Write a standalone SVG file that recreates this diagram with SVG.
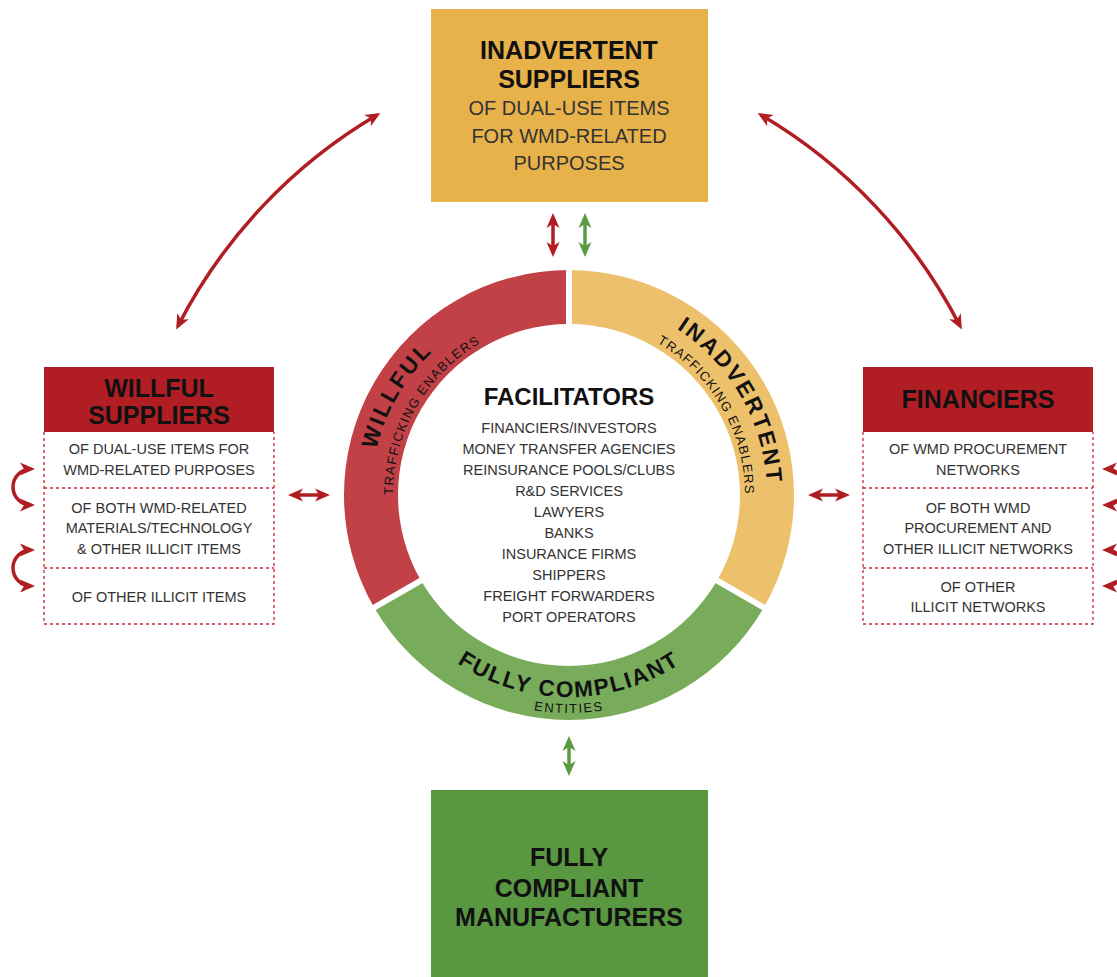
<svg xmlns="http://www.w3.org/2000/svg" width="1117" height="977" viewBox="0 0 1117 977">
  <style>
    .bold { font-family: "Liberation Sans", Arial, sans-serif; font-weight: bold; fill: #111; text-anchor: middle; }
    .reg { font-family: "Liberation Sans", Arial, sans-serif; fill: #333; text-anchor: middle; }
    .ringMain { font-family: "Liberation Sans", Arial, sans-serif; font-weight: bold; font-size: 22.5px; letter-spacing: 2.4px; fill: #111; }
    .ringSub { font-family: "Liberation Sans", Arial, sans-serif; font-size: 13px; letter-spacing: 1.2px; fill: #111; }
    .dash { fill: none; stroke: #C8282E; stroke-width: 1.3; stroke-dasharray: 3 3; }
    .redArrow { fill: none; stroke: #B01E24; stroke-width: 3.5; marker-start: url(#headRed); marker-end: url(#headRed); }
    .greenArrow { fill: none; stroke: #5A9A42; stroke-width: 3.5; marker-start: url(#headGreen); marker-end: url(#headGreen); }
  </style>
  <defs>
    <marker id="headRed" viewBox="-12 -8 17 16" refX="0" refY="0" markerWidth="17" markerHeight="16" markerUnits="userSpaceOnUse" orient="auto-start-reverse">
      <path d="M4,0 L-11,-6.5 L-7,0 L-11,6.5 Z" fill="#B01E24"/>
    </marker>
    <marker id="headGreen" viewBox="-12 -8 17 16" refX="0" refY="0" markerWidth="17" markerHeight="16" markerUnits="userSpaceOnUse" orient="auto-start-reverse">
      <path d="M4,0 L-11,-6.5 L-7,0 L-11,6.5 Z" fill="#5A9A42"/>
    </marker>
    <!-- baselines for the curved ring labels -->
    <path id="arcRedMain" d="M397.53,594 A198,198 0 0,1 569,297"/>
    <path id="arcRedSub" d="M416.58,583 A176,176 0 0,1 569,319"/>
    <path id="arcYelMain" d="M569,297 A198,198 0 0,1 740.47,594"/>
    <path id="arcYelSub" d="M569,319 A176,176 0 0,1 721.42,583"/>
    <path id="arcGrnMain" d="M394.06,596 A202,202 0 0,0 743.94,596"/>
    <path id="arcGrnSub" d="M380.2,604 A218,218 0 0,0 757.8,604"/>
  </defs>

  <rect width="1117" height="977" fill="#fff"/>

  <!-- central ring -->
  <g id="ring">
    <path d="M374.14,607.5 A225,225 0 0,1 569,270 L569,324 A171,171 0 0,0 420.91,580.5 Z" fill="#C24147"/>
    <path d="M569,270 A225,225 0 0,1 763.86,607.5 L717.09,580.5 A171,171 0 0,0 569,324 Z" fill="#EDC06C"/>
    <path d="M763.86,607.5 A225,225 0 0,1 374.14,607.5 L420.91,580.5 A171,171 0 0,0 717.09,580.5 Z" fill="#78AC5A"/>
    <g stroke="#fff" stroke-width="6">
      <line x1="569" y1="330" x2="569" y2="266"/>
      <line x1="425.6" y1="577.8" x2="370.7" y2="609.5"/>
      <line x1="712.4" y1="577.8" x2="767.3" y2="609.5"/>
    </g>
    <text class="ringMain"><textPath href="#arcRedMain" startOffset="50%" text-anchor="middle">WILLFUL</textPath></text>
    <text class="ringSub"><textPath href="#arcRedSub" startOffset="50%" text-anchor="middle">TRAFFICKING ENABLERS</textPath></text>
    <text class="ringMain"><textPath href="#arcYelMain" startOffset="50%" text-anchor="middle">INADVERTENT</textPath></text>
    <text class="ringSub"><textPath href="#arcYelSub" startOffset="50%" text-anchor="middle">TRAFFICKING ENABLERS</textPath></text>
    <text class="ringMain" style="letter-spacing:1.8px"><textPath href="#arcGrnMain" startOffset="50%" text-anchor="middle">FULLY COMPLIANT</textPath></text>
    <text class="ringSub" style="letter-spacing:1.5px"><textPath href="#arcGrnSub" startOffset="50%" text-anchor="middle">ENTITIES</textPath></text>
  </g>

  <!-- facilitators list inside the ring -->
  <g id="facilitators">
    <text class="bold" x="569" y="405" font-size="24">FACILITATORS</text>
    <g class="reg" font-size="14.5">
      <text x="569" y="433">FINANCIERS/INVESTORS</text>
      <text x="569" y="454">MONEY TRANSFER AGENCIES</text>
      <text x="569" y="475">REINSURANCE POOLS/CLUBS</text>
      <text x="569" y="496">R&amp;D SERVICES</text>
      <text x="569" y="517">LAWYERS</text>
      <text x="569" y="538">BANKS</text>
      <text x="569" y="559">INSURANCE FIRMS</text>
      <text x="569" y="580">SHIPPERS</text>
      <text x="569" y="601">FREIGHT FORWARDERS</text>
      <text x="569" y="622">PORT OPERATORS</text>
    </g>
  </g>

  <!-- top node -->
  <g id="inadvertent-suppliers">
    <rect x="431" y="9" width="277" height="193" fill="#E8B24A"/>
    <text class="bold" x="569" y="59" font-size="25">INADVERTENT</text>
    <text class="bold" x="569" y="88" font-size="25">SUPPLIERS</text>
    <text class="reg" x="569" y="115" font-size="20" fill="#222">OF DUAL-USE ITEMS</text>
    <text class="reg" x="569" y="143" font-size="20" fill="#222">FOR WMD-RELATED</text>
    <text class="reg" x="569" y="170" font-size="20" fill="#222">PURPOSES</text>
  </g>

  <!-- bottom node -->
  <g id="compliant-manufacturers">
    <rect x="431" y="790" width="277" height="187" fill="#5A9741"/>
    <text class="bold" x="569" y="866" font-size="25">FULLY</text>
    <text class="bold" x="569" y="897" font-size="25">COMPLIANT</text>
    <text class="bold" x="569" y="926" font-size="25">MANUFACTURERS</text>
  </g>

  <!-- left node -->
  <g id="willful-suppliers">
    <rect x="44" y="367" width="230" height="65" fill="#B01E24"/>
    <text class="bold" x="159" y="397" font-size="25">WILLFUL</text>
    <text class="bold" x="159" y="424" font-size="25">SUPPLIERS</text>
    <path class="dash" d="M44,432 V624 H274 V432 M44,488 H274 M44,568 H274"/>
    <g class="reg" font-size="14.5">
      <text x="159" y="454">OF DUAL-USE ITEMS FOR</text>
      <text x="159" y="475">WMD-RELATED PURPOSES</text>
      <text x="159" y="513">OF BOTH WMD-RELATED</text>
      <text x="159" y="533">MATERIALS/TECHNOLOGY</text>
      <text x="159" y="554">&amp; OTHER ILLICIT ITEMS</text>
      <text x="159" y="602">OF OTHER ILLICIT ITEMS</text>
    </g>
  </g>

  <!-- right node -->
  <g id="financiers">
    <rect x="863" y="367" width="230" height="65" fill="#B01E24"/>
    <text class="bold" x="978" y="408" font-size="25">FINANCIERS</text>
    <path class="dash" d="M863,432 V624 H1093 V432 M863,488 H1093 M863,568 H1093"/>
    <g class="reg" font-size="14.5">
      <text x="978" y="454">OF WMD PROCUREMENT</text>
      <text x="978" y="475">NETWORKS</text>
      <text x="978" y="513">OF BOTH WMD</text>
      <text x="978" y="533">PROCUREMENT AND</text>
      <text x="978" y="554">OTHER ILLICIT NETWORKS</text>
      <text x="978" y="592">OF OTHER</text>
      <text x="978" y="612">ILLICIT NETWORKS</text>
    </g>
  </g>

  <!-- connectors -->
  <g id="connectors">
    <path class="redArrow" d="M377,115 A520,520 0 0,0 178,326"/>
    <path class="redArrow" d="M761,115 A520,520 0 0,1 960,326"/>
    <path class="redArrow" d="M553,217 V253"/>
    <path class="greenArrow" d="M585,217 V253"/>
    <path class="greenArrow" d="M569,740 V772"/>
    <path class="redArrow" d="M292,495 H326"/>
    <path class="redArrow" d="M812,495 H846"/>
    <path class="redArrow" d="M31,469 A18,18 0 0,0 31,505"/>
    <path class="redArrow" d="M31,550 A18,18 0 0,0 31,586"/>
    <path class="redArrow" d="M1106,469 A18,18 0 0,1 1106,505"/>
    <path class="redArrow" d="M1106,550 A18,18 0 0,1 1106,586"/>
  </g>
</svg>
